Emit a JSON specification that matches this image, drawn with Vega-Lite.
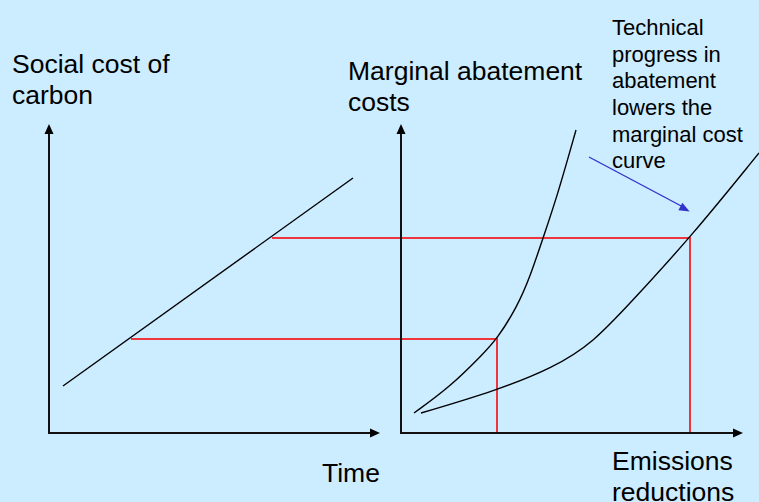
{
  "$schema": "https://vega.github.io/schema/vega-lite/v6.json",
  "autosize": {"type": "none"},
  "width": 759,
  "height": 502,
  "padding": 0,
  "background": "#CCECFF",
  "config": {"view": {"stroke": null}},
  "datasets": {
    "axes": [
      {"x": 49, "y": 69, "x2": 49, "y2": 372},
      {"x": 48, "y": 69, "x2": 374, "y2": 69},
      {"x": 401, "y": 69, "x2": 401, "y2": 372},
      {"x": 400, "y": 69, "x2": 737, "y2": 69}
    ],
    "arrowsUp": [{"x": 49, "y": 373}, {"x": 401, "y": 373}],
    "arrowsRight": [{"x": 375, "y": 69}, {"x": 738, "y": 69}],
    "curves": [
      {"curve": "scc", "x": 63, "y": 116},
      {"curve": "scc", "x": 353, "y": 324},
      {"curve": "mac1", "x": 414, "y": 89},
      {"curve": "mac1", "x": 450, "y": 115},
      {"curve": "mac1", "x": 483, "y": 148},
      {"curve": "mac1", "x": 497, "y": 163},
      {"curve": "mac1", "x": 517, "y": 195},
      {"curve": "mac1", "x": 530, "y": 225},
      {"curve": "mac1", "x": 543, "y": 264},
      {"curve": "mac1", "x": 557, "y": 305},
      {"curve": "mac1", "x": 576, "y": 372},
      {"curve": "mac2", "x": 421, "y": 89},
      {"curve": "mac2", "x": 495, "y": 111},
      {"curve": "mac2", "x": 553, "y": 134},
      {"curve": "mac2", "x": 593, "y": 159},
      {"curve": "mac2", "x": 633, "y": 202},
      {"curve": "mac2", "x": 690, "y": 264},
      {"curve": "mac2", "x": 759, "y": 349}
    ],
    "guides": [
      {"guide": "low", "step": 1, "x": 131, "y": 163},
      {"guide": "low", "step": 2, "x": 497, "y": 163},
      {"guide": "low", "step": 3, "x": 497, "y": 69},
      {"guide": "high", "step": 1, "x": 272, "y": 264},
      {"guide": "high", "step": 2, "x": 690, "y": 264},
      {"guide": "high", "step": 3, "x": 690, "y": 69}
    ],
    "pointer": [{"x": 589, "y": 345, "x2": 685, "y2": 294}],
    "pointerHead": [{"x": 685, "y": 293}],
    "labels": [
      {"text": "Social cost of", "x": 12, "y": 429},
      {"text": "carbon", "x": 12, "y": 398},
      {"text": "Marginal abatement", "x": 348, "y": 422},
      {"text": "costs", "x": 348, "y": 391},
      {"text": "Time", "x": 322, "y": 20},
      {"text": "Emissions", "x": 612, "y": 32},
      {"text": "reductions", "x": 612, "y": 1}
    ],
    "note": [
      {"text": "Technical", "x": 612, "y": 467},
      {"text": "progress in", "x": 612, "y": 440},
      {"text": "abatement", "x": 612, "y": 414},
      {"text": "lowers the", "x": 612, "y": 387},
      {"text": "marginal cost", "x": 612, "y": 360},
      {"text": "curve", "x": 612, "y": 334}
    ]
  },
  "resolve": {"scale": {"x": "shared", "y": "shared"}},
  "encoding": {
    "x": {"field": "x", "type": "quantitative", "scale": {"domain": [0, 759], "nice": false, "zero": false}, "axis": null},
    "y": {"field": "y", "type": "quantitative", "scale": {"domain": [0, 502], "nice": false, "zero": false}, "axis": null}
  },
  "layer": [
    {
      "data": {"name": "guides"},
      "mark": {"type": "line", "color": "#F0343C", "strokeWidth": 2},
      "encoding": {"detail": {"field": "guide"}, "order": {"field": "step", "type": "quantitative"}}
    },
    {
      "data": {"name": "curves"},
      "mark": {"type": "line", "color": "#000000", "strokeWidth": 1.4, "interpolate": "basis"},
      "encoding": {"detail": {"field": "curve"}}
    },
    {
      "data": {"name": "axes"},
      "mark": {"type": "rule", "color": "#111111", "strokeWidth": 2},
      "encoding": {"x2": {"field": "x2"}, "y2": {"field": "y2"}}
    },
    {
      "data": {"name": "arrowsUp"},
      "mark": {"type": "point", "shape": "M0,-1L0.9,1L-0.9,1Z", "size": 100, "filled": true, "color": "#000000", "opacity": 1, "strokeWidth": 0},
      "encoding": {}
    },
    {
      "data": {"name": "arrowsRight"},
      "mark": {"type": "point", "shape": "M1,0L-1,-0.9L-1,0.9Z", "size": 100, "filled": true, "color": "#000000", "opacity": 1, "strokeWidth": 0},
      "encoding": {}
    },
    {
      "data": {"name": "pointer"},
      "mark": {"type": "rule", "color": "#3333CC", "strokeWidth": 1.4},
      "encoding": {"x2": {"field": "x2"}, "y2": {"field": "y2"}}
    },
    {
      "data": {"name": "pointerHead"},
      "mark": {"type": "point", "shape": "M1,0L-1,-0.8L-1,0.8Z", "size": 110, "angle": 28, "filled": true, "color": "#3333CC", "opacity": 1, "strokeWidth": 0},
      "encoding": {}
    },
    {
      "data": {"name": "labels"},
      "mark": {"type": "text", "font": "Liberation Sans", "fontSize": 26.5, "align": "left", "baseline": "alphabetic", "color": "#000000"},
      "encoding": {"text": {"field": "text"}}
    },
    {
      "data": {"name": "note"},
      "mark": {"type": "text", "font": "Liberation Sans", "fontSize": 22, "align": "left", "baseline": "alphabetic", "color": "#000000"},
      "encoding": {"text": {"field": "text"}}
    }
  ]
}
